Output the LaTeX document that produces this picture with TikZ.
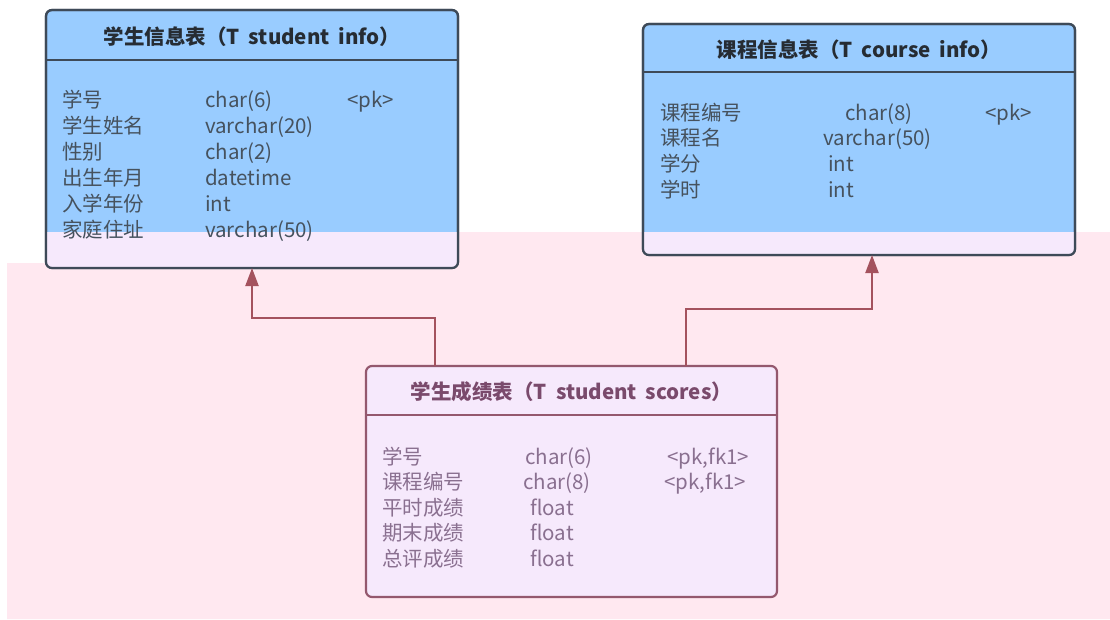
\documentclass[tikz,border=0pt]{standalone}
\usepackage{fontspec}
\setmainfont{Noto Sans CJK SC}
\usetikzlibrary{positioning,calc,arrows.meta}
\definecolor{tblblue}{HTML}{99CCFF}
\definecolor{tbledge}{HTML}{3E4A58}
\definecolor{lavfill}{HTML}{F6E9FC}
\definecolor{bgpink}{HTML}{FFE8F0}
\definecolor{fkred}{HTML}{A4525E}
\definecolor{scoreedge}{HTML}{94586E}
\definecolor{headtext}{HTML}{262C33}
\definecolor{bodytext}{HTML}{46525E}
\definecolor{scorehead}{HTML}{7A4A6C}
\definecolor{scoretext}{HTML}{8A7090}
\newcommand\tblheadfont{\fontsize{20.5}{24}\selectfont\bfseries\spaceskip=9pt\relax}
\tikzset{tbl/.style={draw=tbledge, line width=2.2pt, rounded corners=6pt, fill=tblblue, inner sep=0pt, outer sep=0pt}}
\tikzset{tblhead/.style={font=\tblheadfont, text=headtext, inner sep=0pt}}
\tikzset{tblbody/.style={anchor=base west, inner sep=0pt, text=bodytext}}
\tikzset{fk/.style={draw=fkred, line width=2.2pt, -{Triangle[length=18pt,width=13pt]}}}

\begin{document}
\begin{tikzpicture}[x=1pt,y=-1pt]
\useasboundingbox (0,0) rectangle (1110,619);
% background band
\fill[bgpink] (7,263) -- (46,263) -- (46,232) -- (1110,232) -- (1110,619) -- (7,619) -- cycle;

% tables
\node[tbl, minimum width=412pt, minimum height=258pt] (info) at (252,139) {};
\node[tbl, minimum width=432pt, minimum height=231pt] (course) at (859,139.5) {};
\node[tbl, draw=scoreedge, fill=lavfill, minimum width=411pt, minimum height=231pt] (scores) at (571.5,481.5) {};

% lower part of the upper tables
\foreach \t in {info,course}{
  \begin{scope}
    \clip[rounded corners=6pt] (\t.north west) rectangle (\t.south east);
    \fill[lavfill] (0,232) rectangle (1110,619);
  \end{scope}
  \draw[tbledge, line width=2.2pt, rounded corners=6pt] (\t.north west) rectangle (\t.south east);
}

% header lines
\draw[tbledge, line width=2.2pt] ([yshift=-50pt]info.north west) -- ([yshift=-50pt]info.north east);
\draw[tbledge, line width=2.2pt] ([yshift=-48pt]course.north west) -- ([yshift=-48pt]course.north east);
\draw[scoreedge, line width=2.2pt] ([yshift=-49pt]scores.north west) -- ([yshift=-49pt]scores.north east);

% headers
\node[tblhead] (infoH) at ([yshift=-27pt]info.north) {学生信息表（T student info）};
\node[tblhead] (courseH) at ([yshift=-26pt]course.north) {课程信息表（T course info）};
\node[tblhead, text=scorehead] (scoresH) at ([yshift=-26pt]scores.north) {学生成绩表（T student scores）};

% fields
\node[tblbody] (infoB) at (62,107) {\fontsize{20.5}{26}\selectfont
  \begin{tabular}[t]{@{}p{143pt}@{}p{142pt}@{}l@{}}
    学号 & char(6) & <pk>\\
    学生姓名 & varchar(20) & \\
    性别 & char(2) & \\
    出生年月 & datetime & \\
    入学年份 & int & \\
    家庭住址 & varchar(50) & \\
  \end{tabular}};
\node[tblbody] (courseB) at (660,120) {\fontsize{20.5}{25.7}\selectfont
  \begin{tabular}[t]{@{}p{163pt}@{}p{162pt}@{}l@{}}
    课程编号 & \hspace{22pt}char(8) & <pk>\\
    课程名 & varchar(50) & \\
    学分 & \hspace{5pt}int & \\
    学时 & \hspace{5pt}int & \\
  \end{tabular}};
\node[tblbody, text=scoretext] (scoresB) at (382,464) {\fontsize{20.5}{25.5}\selectfont
  \begin{tabular}[t]{@{}p{141pt}@{}p{141pt}@{}l@{}}
    学号 & \hspace{2pt}char(6) & \hspace{3pt}<pk,fk1>\\
    课程编号 & char(8) & <pk,fk1>\\
    平时成绩 & \hspace{7pt}float & \\
    期末成绩 & \hspace{7pt}float & \\
    总评成绩 & \hspace{7pt}float & \\
  \end{tabular}};

% references
\draw[fk] ([xshift=-136.5pt]scores.north) -- ++(0,-48) -| (info.south);
\draw[fk] ([xshift=114.5pt]scores.north) -- ++(0,-57) -| ([xshift=13pt]course.south);
\end{tikzpicture}
\end{document}
